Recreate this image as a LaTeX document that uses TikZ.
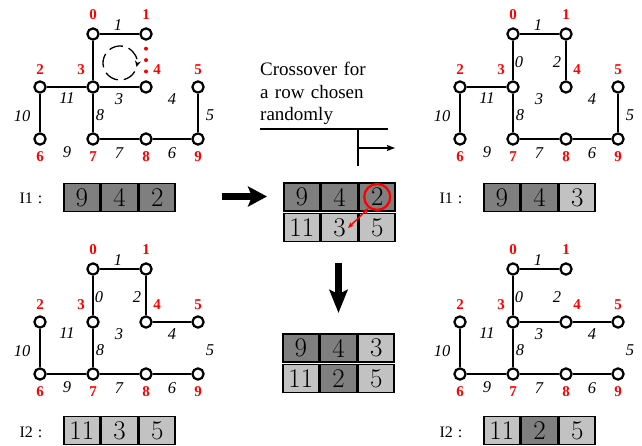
\documentclass[tikz,border=0pt]{standalone}
\usepackage{fontspec}
\setmainfont{Liberation Serif}
\newfontfamily\lmrfont{Latin Modern Roman}
\usetikzlibrary{arrows.meta}
\definecolor{cdark}{HTML}{7F7F7F}
\definecolor{clight}{HTML}{C2C2C2}
\definecolor{lred}{HTML}{FF0000}
\tikzset{
  vtx/.style={circle, draw=black, line width=2.2pt, fill=white, minimum size=11.2pt, inner sep=0pt},
  edg/.style={line width=2.2pt},
  nlab/.style={text=lred, font=\fontsize{15}{15}\selectfont\bfseries, inner sep=0pt},
  elab/.style={font=\fontsize{16.5}{16.5}\selectfont\itshape, inner sep=0pt},
  cellbox/.style={draw=black, line width=1.6pt, minimum width=36pt, minimum height=28pt, inner sep=0pt, font=\lmrfont\fontsize{27}{27}\selectfont},
  tlab/.style={font=\fontsize{16}{16}\selectfont, inner sep=0pt},
  bigarrow/.style={line width=6.5pt, -{Stealth[length=19pt, width=20pt, inset=4pt]}},
}
\newcommand\mkgraph[3]{%
  \begin{scope}[shift={(#2,#3)}]
    \node[vtx] (#1n0) at (93,34) {};
    \node[vtx] (#1n1) at (146,34) {};
    \node[vtx] (#1n2) at (40,87) {};
    \node[vtx] (#1n3) at (93,87) {};
    \node[vtx] (#1n4) at (146,87) {};
    \node[vtx] (#1n5) at (198,87) {};
    \node[vtx] (#1n6) at (40,139) {};
    \node[vtx] (#1n7) at (93,139) {};
    \node[vtx] (#1n8) at (146,139) {};
    \node[vtx] (#1n9) at (198,139) {};
    \node[nlab] (#1l0) at (93,15) {0};
    \node[nlab] (#1l1) at (146,15) {1};
    \node[nlab] (#1l2) at (40,70) {2};
    \node[nlab] (#1l3) at (81,70) {3};
    \node[nlab] (#1l4) at (157,70) {4};
    \node[nlab] (#1l5) at (198,70) {5};
    \node[nlab] (#1l6) at (40,157) {6};
    \node[nlab] (#1l7) at (93,157) {7};
    \node[nlab] (#1l8) at (146,157) {8};
    \node[nlab] (#1l9) at (198,157) {9};
    \node[elab] (#1e1) at (118,25) {1};
    \node[elab] (#1e3) at (119,99) {3};
    \node[elab] (#1e4) at (172,99) {4};
    \node[elab] (#1e5) at (210,115) {5};
    \node[elab] (#1e6) at (172,153) {6};
    \node[elab] (#1e7) at (119,153) {7};
    \node[elab] (#1e8) at (100,115) {8};
    \node[elab] (#1e9) at (67,152) {9};
    \node[elab] (#1e10) at (22,116) {10};
    \node[elab] (#1e11) at (67,98) {11};
  \end{scope}}
\newcommand\mkextra[3]{%
  \begin{scope}[shift={(#2,#3)}]
    \node[elab] (#1e0) at (99,62) {0};
    \node[elab] (#1e2) at (137,62) {2};
  \end{scope}}
% cell: name, x, y, fill, text
\newcommand\mkcell[5]{\node[cellbox, fill=#4] (#1) at (#2,#3) {#5};}
\begin{document}
\begin{tikzpicture}[x=1pt, y=-1pt]
\useasboundingbox (0,0) rectangle (642,446);

% ---- graphs ----
\mkgraph{A}{0}{0}
\mkgraph{B}{420}{0}
\mkextra{B}{420}{0}
\mkgraph{C}{0}{235}
\mkextra{C}{0}{235}
\mkgraph{D}{420}{235}
\mkextra{D}{420}{235}

% graph A edges
\draw[edg] (An0)--(An1) (An0)--(An3) (An2)--(An3) (An3)--(An4) (An3)--(An7)
  (An2)--(An6) (An7)--(An8) (An8)--(An9) (An9)--(An5);
\draw[lred, line width=4pt, line cap=round, dash pattern=on 0pt off 11.4pt,
  shorten <=8pt, shorten >=8pt] (An1)--(An4);
\coordinate (rot) at (120,63);
\draw[line width=1.3pt, dash pattern=on 14pt off 6pt, -{Stealth[length=6pt,width=6pt]}]
  (rot) ++(-30:17pt) arc[start angle=-30, end angle=-373, radius=17pt];

% graph B edges
\draw[edg] (Bn0)--(Bn1) (Bn0)--(Bn3) (Bn1)--(Bn4) (Bn2)--(Bn3) (Bn3)--(Bn7)
  (Bn2)--(Bn6) (Bn7)--(Bn8) (Bn8)--(Bn9) (Bn9)--(Bn5);

% graph C edges
\draw[edg] (Cn0)--(Cn1) (Cn0)--(Cn3) (Cn1)--(Cn4) (Cn4)--(Cn5) (Cn3)--(Cn7)
  (Cn2)--(Cn6) (Cn6)--(Cn7) (Cn7)--(Cn8) (Cn8)--(Cn9);

% graph D edges
\draw[edg] (Dn0)--(Dn1) (Dn0)--(Dn3) (Dn3)--(Dn4) (Dn4)--(Dn5) (Dn3)--(Dn7)
  (Dn2)--(Dn6) (Dn6)--(Dn7) (Dn7)--(Dn8) (Dn8)--(Dn9);

% ---- tables ----
\node[tlab] (tA) at (31,198) {I1\hspace{5pt}:};
\mkcell{TA1}{81.85}{197.5}{cdark}{9}
\mkcell{TA2}{119.55}{197.5}{cdark}{4}
\mkcell{TA3}{157.25}{197.5}{cdark}{2}

\node[tlab] (tB) at (451,198) {I1\hspace{5pt}:};
\mkcell{TB1}{501.85}{197.5}{cdark}{9}
\mkcell{TB2}{539.55}{197.5}{cdark}{4}
\mkcell{TB3}{577.25}{197.5}{clight}{3}

\node[tlab] (tC) at (31,432) {I2\hspace{5pt}:};
\mkcell{TC1}{81.85}{430.5}{clight}{11}
\mkcell{TC2}{119.55}{430.5}{clight}{3}
\mkcell{TC3}{157.25}{430.5}{clight}{5}

\node[tlab] (tD) at (451,432) {I2\hspace{5pt}:};
\mkcell{TD1}{501.85}{430.5}{clight}{11}
\mkcell{TD2}{539.55}{430.5}{cdark}{2}
\mkcell{TD3}{577.25}{430.5}{clight}{5}

% middle top table
\mkcell{M11}{301.85}{197}{cdark}{9}
\mkcell{M12}{339.55}{197}{cdark}{4}
\mkcell{M13}{377.25}{197}{cdark}{2}
\mkcell{M21}{301.85}{227.5}{clight}{11}
\mkcell{M22}{339.55}{227.5}{clight}{3}
\mkcell{M23}{377.25}{227.5}{clight}{5}

% middle bottom table
\mkcell{N11}{300.85}{348}{cdark}{9}
\mkcell{N12}{338.55}{348}{cdark}{4}
\mkcell{N13}{376.25}{348}{clight}{3}
\mkcell{N21}{300.85}{378.5}{clight}{11}
\mkcell{N22}{338.55}{378.5}{cdark}{2}
\mkcell{N23}{376.25}{378.5}{clight}{5}

% red circle and swap arrow
\node[circle, draw=lred, line width=2.3pt, minimum size=26pt, inner sep=0pt] (rc) at (M13) {};
\coordinate (swapend) at (348,228);
\draw[lred, line width=1.4pt, {Stealth[length=6pt,width=5pt]}-{Stealth[length=6pt,width=5pt]}]
  (rc.232) -- (swapend);

% ---- big arrows ----
\coordinate (ra1) at (222,196.5);
\coordinate (ra2) at (267,196.5);
\draw[bigarrow] (ra1) -- (ra2);
\coordinate (da1) at (338.5,263);
\coordinate (da2) at (338.5,313);
\draw[line width=7pt, -{Stealth[length=23pt, width=18pt, inset=4pt]}] (da1) -- (da2);

% ---- crossover text and symbol ----
\node[anchor=base west, inner sep=0pt, text width=116pt, align=left,
  font=\fontsize{19}{22.5}\selectfont] (cross) at (260,76)
  {\makebox[116pt][s]{Crossover for}\\\makebox[116pt][s]{a row chosen}\\randomly};
\coordinate (u1) at (260,129);
\coordinate (u2) at (388,129);
\coordinate (v1) at (358,129);
\coordinate (v2) at (358,166);
\coordinate (h1) at (358,148);
\coordinate (h2) at (395,148);
\draw[line width=2pt] (u1) -- (u2);
\draw[line width=2pt] (v1) -- (v2);
\draw[line width=1.2pt, -{Stealth[length=8pt,width=6pt,inset=1pt]}] (h1) -- (h2);
\end{tikzpicture}
\end{document}
